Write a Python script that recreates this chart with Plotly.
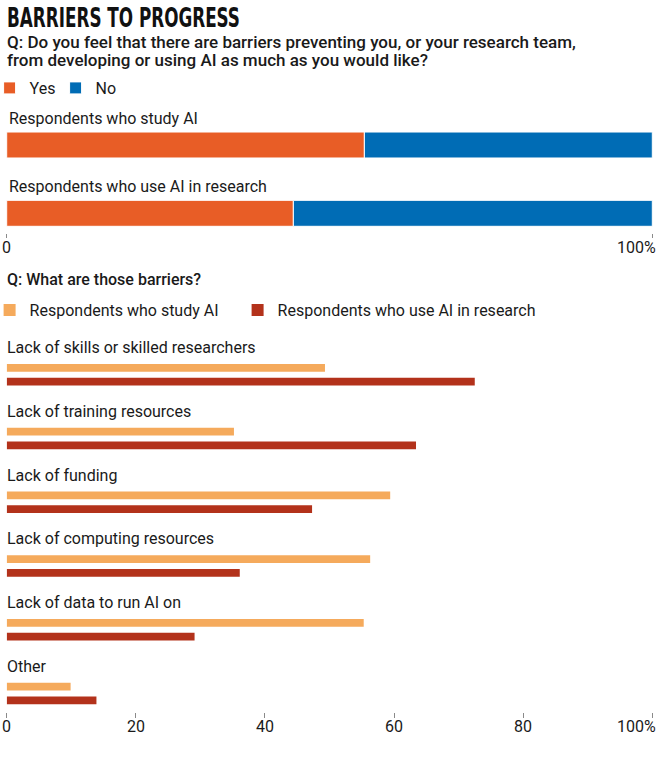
import plotly.graph_objects as go

# ---------------- data ----------------
top_groups = ["Respondents who study AI", "Respondents who use AI in research"]
yes_vals = [55.4, 44.4]
no_vals = [44.6, 55.6]

barriers = [
    "Lack of skills or skilled researchers",
    "Lack of training resources",
    "Lack of funding",
    "Lack of computing resources",
    "Lack of data to run AI on",
    "Other",
]
study_ai = [49.3, 35.2, 59.4, 56.3, 55.3, 9.9]
use_ai = [72.5, 63.4, 47.3, 36.1, 29.1, 13.9]

top_ticks = [0, 100]
top_ticktext = ["0", "100%"]
bottom_ticks = [0, 20, 40, 60, 80, 100]
bottom_ticktext = ["0", "20", "40", "60", "80", "100%"]

# ---------------- styles ----------------
W, H = 660, 761
FONT = "Roboto, 'Noto Sans', sans-serif"
TXT = "#1a1a1a"
C_YES = "#E85D26"
C_NO = "#006CB5"
C_STUDY = "#F5AA5C"
C_USE = "#B3321B"


def py(p):
    return 1 - p / H


def px(p):
    return p / W


def legend_x(symbol_center):
    # plotly draws the legend symbol ~20px right of the legend's left edge
    return (symbol_center - 20.4) / W


fig = go.Figure()

# top stacked bars
fig.add_trace(go.Bar(
    y=top_groups, x=yes_vals, orientation="h", name="Yes",
    marker=dict(color=C_YES, line=dict(color="white", width=1)),
    width=0.38, xaxis="x", yaxis="y", legend="legend", hoverinfo="x+y",
))
fig.add_trace(go.Bar(
    y=top_groups, x=no_vals, base=yes_vals, orientation="h", name="No",
    marker=dict(color=C_NO, line=dict(color="white", width=1)),
    width=0.38, xaxis="x", yaxis="y", legend="legend2", hoverinfo="x+y",
))

# bottom grouped bars
fig.add_trace(go.Bar(
    y=barriers, x=study_ai, orientation="h", name="Respondents who study AI",
    marker=dict(color=C_STUDY, line=dict(width=0)),
    width=0.12, offset=-0.167, xaxis="x2", yaxis="y2", legend="legend3",
))
fig.add_trace(go.Bar(
    y=barriers, x=use_ai, orientation="h", name="Respondents who use AI in research",
    marker=dict(color=C_USE, line=dict(width=0)),
    width=0.12, offset=0.049, xaxis="x2", yaxis="y2", legend="legend4",
))

xdom = [px(6.7), px(652.3)]
axis_common = dict(
    range=[0, 100], showgrid=False, zeroline=False, showline=False,
    ticks="outside", tickcolor="#8a8a8a", tickwidth=1,
    showticklabels=False, fixedrange=True,
)

annotations = []
# title
annotations.append(dict(
    text="<b>BARRIERS TO PROGRESS</b>", xref="paper", yref="paper",
    x=px(5), y=py(17), xanchor="left", yanchor="middle", showarrow=False,
    font=dict(family="'DejaVu Sans Condensed', 'DejaVu Sans', sans-serif", size=27, color="#111"),
))
sub_lines = [
    "Q: Do you feel that there are barriers preventing you, or your research team,",
    "from developing or using AI as much as you would like?",
]
for line, yy in zip(sub_lines, [42.5, 60]):
    annotations.append(dict(
        text=line, xref="paper", yref="paper", x=px(5), y=py(yy),
        xanchor="left", yanchor="middle", showarrow=False,
        font=dict(family=FONT, size=17, color=TXT, weight=500),
    ))
annotations.append(dict(
    text="Q: What are those barriers?", xref="paper", yref="paper",
    x=px(5), y=py(279), xanchor="left", yanchor="middle", showarrow=False,
    font=dict(family=FONT, size=16, color=TXT, weight=500),
))
# top group labels
for g in top_groups:
    annotations.append(dict(
        text=g, xref="x", yref="y", x=0, y=g, xanchor="left", yanchor="middle",
        yshift=27, showarrow=False, font=dict(family=FONT, size=16, color=TXT),
    ))
# barrier labels
for b in barriers:
    annotations.append(dict(
        text=b, xref="x2", yref="y2", x=0, y=b, xanchor="left", yanchor="middle",
        xshift=-2, yshift=27, showarrow=False, font=dict(family=FONT, size=16, color=TXT),
    ))
# tick labels (last one right-aligned to its tick)
for axis, ticks, labels, yy in [("x", top_ticks, top_ticktext, 247.5),
                                ("x2", bottom_ticks, bottom_ticktext, 726)]:
    for i, (t, lab) in enumerate(zip(ticks, labels)):
        last = i == len(ticks) - 1
        annotations.append(dict(
            text=lab, xref=axis, yref="paper", x=t, y=py(yy),
            xanchor="right" if last else "center", yanchor="middle",
            xshift=6 if last else 0, showarrow=False,
            font=dict(family=FONT, size=16, color=TXT),
        ))

leg_common = dict(orientation="h", xanchor="left", yanchor="middle",
                  font=dict(family=FONT, size=16, color=TXT),
                  bgcolor="rgba(0,0,0,0)", borderwidth=0)

fig.update_layout(
    width=W, height=H, margin=dict(l=0, r=0, t=0, b=0, autoexpand=False),
    paper_bgcolor="white", plot_bgcolor="white",
    barmode="overlay", showlegend=True,
    xaxis=dict(domain=xdom, anchor="y", tickvals=top_ticks, ticklen=4, **axis_common),
    yaxis=dict(domain=[py(233), py(110.85)], range=[1.288, -0.5], type="category",
               categoryorder="array", categoryarray=top_groups,
               showticklabels=False, showgrid=False, zeroline=False, ticks="", fixedrange=True),
    xaxis2=dict(domain=xdom, anchor="y2", tickvals=bottom_ticks, ticklen=5, **axis_common),
    yaxis2=dict(domain=[py(711.5), py(336.45)], range=[5.283, -0.6], type="category",
                categoryorder="array", categoryarray=barriers,
                showticklabels=False, showgrid=False, zeroline=False, ticks="", fixedrange=True),
    legend=dict(x=legend_x(10), y=py(88), **leg_common),
    legend2=dict(x=legend_x(76), y=py(88), **leg_common),
    legend3=dict(x=legend_x(10), y=py(310), **leg_common),
    legend4=dict(x=legend_x(258), y=py(310), **leg_common),
    annotations=annotations,
    hovermode="closest",
)

post = """
document.body.style.margin = '0';
var gd = document.getElementById('{plot_id}');
gd.querySelectorAll('text.annotation-text').forEach(function (el) {
  if (el.textContent.indexOf('BARRIERS') === 0) {
    var w = el.getBBox().width;
    var s = 233 / w;
    el.style.transformBox = 'fill-box';
    el.style.transformOrigin = '0% 50%';
    el.style.transform = 'scaleX(' + s + ')';
  }
});
"""

fig.write_html("out.html", post_script=post, config={"displayModeBar": False})
